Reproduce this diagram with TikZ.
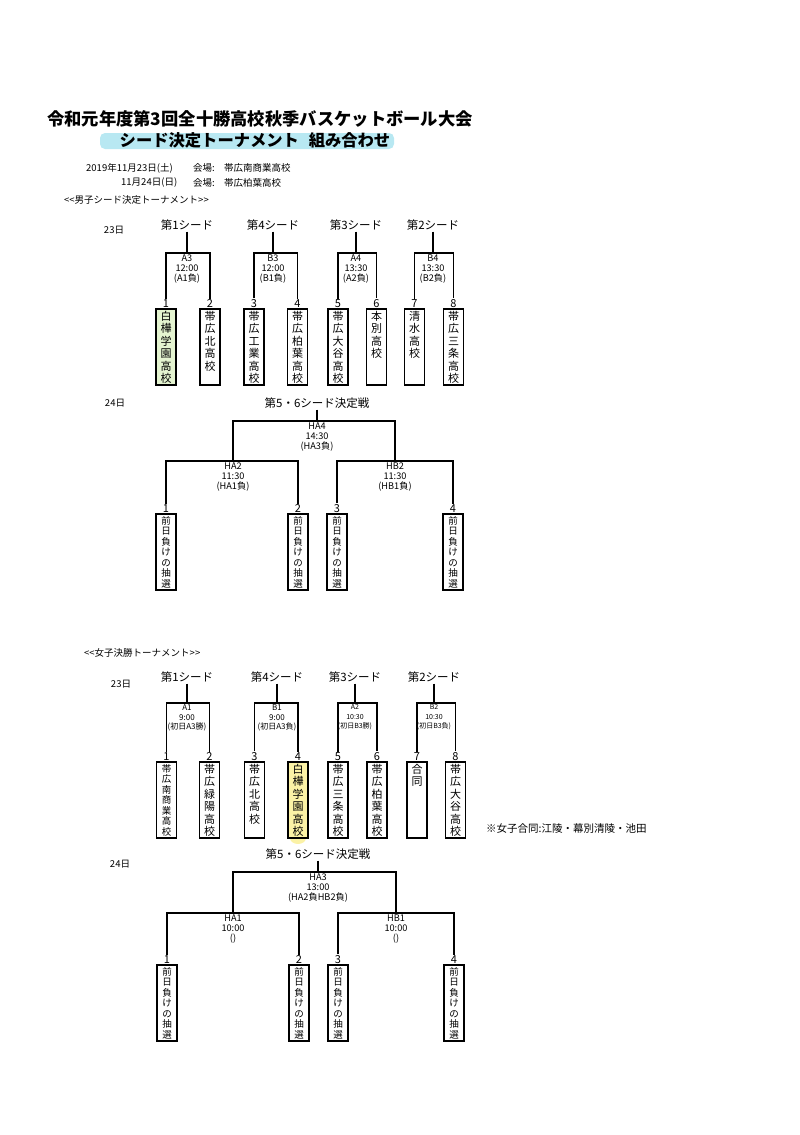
\documentclass[tikz,border=0pt]{standalone}
\usepackage{fontspec}
\setmainfont{Noto Sans CJK JP}
\usepackage{tikz}
\definecolor{seedgreen}{HTML}{E4F4D0}
\definecolor{markcyan}{HTML}{B8E8F2}
\definecolor{markyellow}{HTML}{FBF2A6}
\newcommand{\tatebox}[1]{\parbox[t][71pt][t]{17pt}{\centering #1}}

\begin{document}
\begin{tikzpicture}[x=1pt, y=-1pt,
    bracket/.style={black, line width=1.2pt},
    team/.style={draw, black, line width=1.5pt, anchor=north, inner xsep=1.5pt, inner ysep=2.5pt, font=\fontsize{11}{12.4}\selectfont},
    lot/.style={team, font=\fontsize{9.5}{10.5}\selectfont},
    num/.style={anchor=south, inner sep=0.5pt, font=\fontsize{11}{11}\selectfont},
    seed/.style={inner sep=1pt, font=\fontsize{11.5}{12}\selectfont},
    game/.style={anchor=north, align=center, inner sep=1.5pt, font=\fontsize{9.2}{10.2}\selectfont},
    day/.style={inner sep=1pt, font=\fontsize{9.5}{10}\selectfont}]
        \useasboundingbox (0,0) rectangle (800,1135);
        \fill[markcyan, rounded corners=5pt] (100,133) rectangle (394,149);
        \node[font=\fontsize{17.3}{18}\selectfont\bfseries] (title) at (260,119) {令和元年度第3回全十勝高校秋季バスケットボール大会};
        \node[font=\fontsize{16.3}{18}\selectfont\bfseries] (subtitle) at (255,140) {シード決定トーナメント\hspace{0.6em}組み合わせ};
        \node[day, anchor=west] (date1) at (85,168) {2019年11月23日(土)};
        \node[day, anchor=west] (date2) at (120,183) {11月24日(日)};
        \node[day, anchor=west] (hall1) at (192,168) {会場:};
        \node[day, anchor=west] (hall2) at (192,183) {会場:};
        \node[day, anchor=west] (venue1) at (223,168) {帯広南商業高校};
        \node[day, anchor=west] (venue2) at (223,183) {帯広柏葉高校};
        \node[day, anchor=west] (boys) at (63,200) {<{}<男子シード決定トーナメント>{}>};

        \node[day] (b23) at (114,230) {23日};
        \node[seed] (bs1) at (187,225) {第1シード};
        \node[seed] (bs4) at (273,225) {第4シード};
        \node[seed] (bs3) at (356,225) {第3シード};
        \node[seed] (bs2) at (433,225) {第2シード};
        \coordinate (bh1) at (187,253);
        \coordinate (bh2) at (273,253);
        \coordinate (bh3) at (356,253);
        \coordinate (bh4) at (433,253);
        \node[team, fill=seedgreen] (bt1) at (166,308) {\tatebox{白\\樺\\学\\園\\高\\校}};
        \node[team] (bt2) at (210,308) {\tatebox{帯\\広\\北\\高\\校}};
        \node[team] (bt3) at (254,308) {\tatebox{帯\\広\\工\\業\\高\\校}};
        \node[team] (bt4) at (297.5,308) {\tatebox{帯\\広\\柏\\葉\\高\\校}};
        \node[team] (bt5) at (338,308) {\tatebox{帯\\広\\大\\谷\\高\\校}};
        \node[team] (bt6) at (376.5,308) {\tatebox{本\\別\\高\\校}};
        \node[team] (bt7) at (414.5,308) {\tatebox{清\\水\\高\\校}};
        \node[team] (bt8) at (453.5,308) {\tatebox{帯\\広\\三\\条\\高\\校}};
        \node[num] (bn1) at (bt1.north) {1};
        \node[num] (bn2) at (bt2.north) {2};
        \node[num] (bn3) at (bt3.north) {3};
        \node[num] (bn4) at (bt4.north) {4};
        \node[num] (bn5) at (bt5.north) {5};
        \node[num] (bn6) at (bt6.north) {6};
        \node[num] (bn7) at (bt7.north) {7};
        \node[num] (bn8) at (bt8.north) {8};
        \draw[bracket] (bs1.south) -- (bh1);
        \draw[bracket] (bs4.south) -- (bh2);
        \draw[bracket] (bs3.south) -- (bh3);
        \draw[bracket] (bs2.south) -- (bh4);
        \draw[bracket] (bn1.north) |- (bh1) -| (bn2.north);
        \draw[bracket] (bn3.north) |- (bh2) -| (bn4.north);
        \draw[bracket] (bn5.north) |- (bh3) -| (bn6.north);
        \draw[bracket] (bn7.north) |- (bh4) -| (bn8.north);
        \node[game] (bg1) at (bh1) {A3\\12:00\\(A1負)};
        \node[game] (bg2) at (bh2) {B3\\12:00\\(B1負)};
        \node[game] (bg3) at (bh3) {A4\\13:30\\(A2負)};
        \node[game] (bg4) at (bh4) {B4\\13:30\\(B2負)};

        \node[day] (b24) at (115,403) {24日};
        \node[seed] (bf) at (317,403) {第5・6シード決定戦};
        \coordinate (bk) at (317,421);
        \coordinate (bkl) at (233,461);
        \coordinate (bkr) at (395,461);
        \node[lot] (bl1) at (166,513) {\tatebox{前\\日\\負\\け\\の\\抽\\選}};
        \node[lot] (bl2) at (298,513) {\tatebox{前\\日\\負\\け\\の\\抽\\選}};
        \node[lot] (bl3) at (337,513) {\tatebox{前\\日\\負\\け\\の\\抽\\選}};
        \node[lot] (bl4) at (453,513) {\tatebox{前\\日\\負\\け\\の\\抽\\選}};
        \node[num] (bm1) at (bl1.north) {1};
        \node[num] (bm2) at (bl2.north) {2};
        \node[num] (bm3) at (bl3.north) {3};
        \node[num] (bm4) at (bl4.north) {4};
        \draw[bracket] (bf.south) -- (bk);
        \draw[bracket] (bkl) |- (bk) -| (bkr);
        \draw[bracket] (bm1.north) |- (bkl) -| (bm2.north);
        \draw[bracket] (bm3.north) |- (bkr) -| (bm4.north);
        \node[game] (bgk) at (bk) {HA4\\14:30\\(HA3負)};
        \node[game] (bgl) at (bkl) {HA2\\11:30\\(HA1負)};
        \node[game] (bgr) at (bkr) {HB2\\11:30\\(HB1負)};

        \node[day, anchor=west] (girls) at (83,653) {<{}<女子決勝トーナメント>{}>};
        \node[day] (g23) at (121,684) {23日};
        \node[seed] (gs1) at (187,677) {第1シード};
        \node[seed] (gs4) at (277,677) {第4シード};
        \node[seed] (gs3) at (355,677) {第3シード};
        \node[seed] (gs2) at (434,677) {第2シード};
        \coordinate (gh1) at (187,703);
        \coordinate (gh2) at (277,703);
        \coordinate (gh3) at (355,703);
        \coordinate (gh4) at (434,703);
        \fill[markyellow] (298,838) ellipse (8 and 6);
        \node[team, font=\fontsize{9.5}{10.5}\selectfont] (gt1) at (166.5,761) {\tatebox{帯\\広\\南\\商\\業\\高\\校}};
        \node[team] (gt2) at (209.5,761) {\tatebox{帯\\広\\緑\\陽\\高\\校}};
        \node[team] (gt3) at (254.5,761) {\tatebox{帯\\広\\北\\高\\校}};
        \node[team, fill=markyellow] (gt4) at (298,761) {\tatebox{白\\樺\\学\\園\\高\\校}};
        \node[team] (gt5) at (338,761) {\tatebox{帯\\広\\三\\条\\高\\校}};
        \node[team] (gt6) at (377,761) {\tatebox{帯\\広\\柏\\葉\\高\\校}};
        \node[team] (gt7) at (417,761) {\tatebox{合\\同}};
        \node[team] (gt8) at (455.5,761) {\tatebox{帯\\広\\大\\谷\\高\\校}};
        \node[num] (gn1) at (gt1.north) {1};
        \node[num] (gn2) at (gt2.north) {2};
        \node[num] (gn3) at (gt3.north) {3};
        \node[num] (gn4) at (gt4.north) {4};
        \node[num] (gn5) at (gt5.north) {5};
        \node[num] (gn6) at (gt6.north) {6};
        \node[num] (gn7) at (gt7.north) {7};
        \node[num] (gn8) at (gt8.north) {8};
        \draw[bracket] (gs1.south) -- (gh1);
        \draw[bracket] (gs4.south) -- (gh2);
        \draw[bracket] (gs3.south) -- (gh3);
        \draw[bracket] (gs2.south) -- (gh4);
        \draw[bracket] (gn1.north) |- (gh1) -| (gn2.north);
        \draw[bracket] (gn3.north) |- (gh2) -| (gn4.north);
        \draw[bracket] (gn5.north) |- (gh3) -| (gn6.north);
        \draw[bracket] (gn7.north) |- (gh4) -| (gn8.north);
        \node[game, font=\fontsize{8}{9.5}\selectfont] (gg1) at (gh1) {A1\\9:00\\(初日A3勝)};
        \node[game, font=\fontsize{8}{9.5}\selectfont] (gg2) at (gh2) {B1\\9:00\\(初日A3負)};
        \node[game, font=\fontsize{7}{9.5}\selectfont] (gg3) at (gh3) {A2\\10:30\\(初日B3勝)};
        \node[game, font=\fontsize{7}{9.5}\selectfont] (gg4) at (gh4) {B2\\10:30\\(初日B3負)};
        \node[anchor=west, inner sep=1pt, font=\fontsize{10.5}{11}\selectfont] (memo) at (485,829) {※女子合同:江陵・幕別清陵・池田};

        \node[day] (g24) at (120,864) {24日};
        \node[seed] (gf) at (318,854) {第5・6シード決定戦};
        \coordinate (gk) at (318,872);
        \coordinate (gkl) at (233,913);
        \coordinate (gkr) at (396,913);
        \node[lot] (gl1) at (167,964) {\tatebox{前\\日\\負\\け\\の\\抽\\選}};
        \node[lot] (gl2) at (299,964) {\tatebox{前\\日\\負\\け\\の\\抽\\選}};
        \node[lot] (gl3) at (338,964) {\tatebox{前\\日\\負\\け\\の\\抽\\選}};
        \node[lot] (gl4) at (454,964) {\tatebox{前\\日\\負\\け\\の\\抽\\選}};
        \node[num] (gm1) at (gl1.north) {1};
        \node[num] (gm2) at (gl2.north) {2};
        \node[num] (gm3) at (gl3.north) {3};
        \node[num] (gm4) at (gl4.north) {4};
        \draw[bracket] (gf.south) -- (gk);
        \draw[bracket] (gkl) |- (gk) -| (gkr);
        \draw[bracket] (gm1.north) |- (gkl) -| (gm2.north);
        \draw[bracket] (gm3.north) |- (gkr) -| (gm4.north);
        \node[game] (ggk) at (gk) {HA3\\13:00\\(HA2負HB2負)};
        \node[game] (ggl) at (gkl) {HA1\\10:00\\()};
        \node[game] (ggr) at (gkr) {HB1\\10:00\\()};
    \end{tikzpicture}
\end{document}
